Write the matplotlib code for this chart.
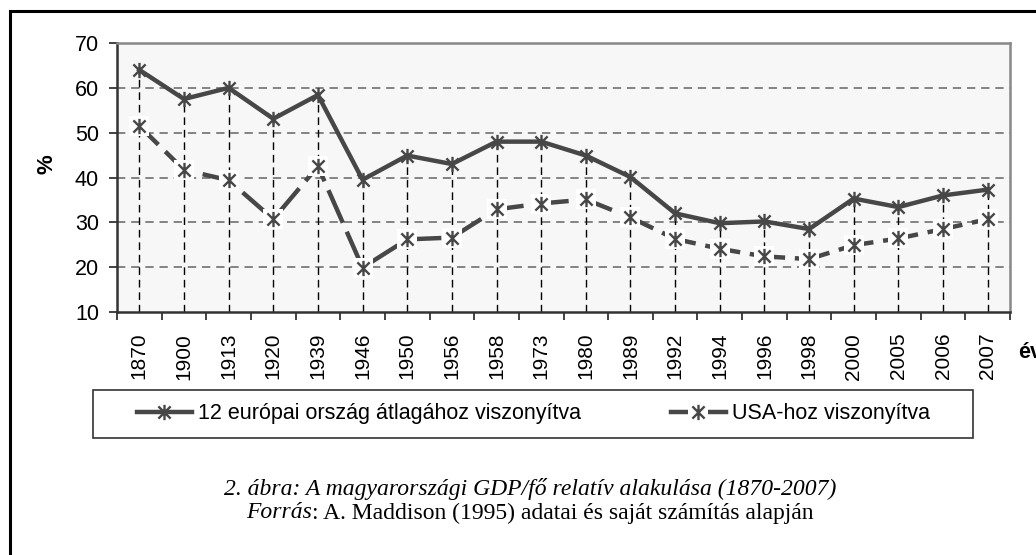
import numpy as np
import matplotlib.pyplot as plt
from matplotlib.path import Path
from matplotlib.patches import Rectangle
from matplotlib.lines import Line2D
from matplotlib.legend_handler import HandlerTuple

plt.rcParams['font.family'] = ['Liberation Sans', 'DejaVu Sans']

# --- Data ---
years = ["1870", "1900", "1913", "1920", "1939", "1946", "1950", "1956", "1958", "1973",
         "1980", "1989", "1992", "1994", "1996", "1998", "2000", "2005", "2006", "2007"]
europe12 = [64.0, 57.5, 60.0, 53.1, 58.4, 39.5, 44.9, 43.0, 48.0, 48.0,
            44.9, 40.1, 32.0, 29.8, 30.2, 28.5, 35.3, 33.4, 36.0, 37.3]
usa = [51.5, 41.7, 39.4, 30.7, 42.5, 19.9, 26.2, 26.6, 32.9, 34.2,
       35.1, 31.1, 26.3, 24.1, 22.4, 21.8, 24.9, 26.4, 28.5, 30.7]

label_eu = "12 európai ország átlagához viszonyítva"
label_us = "USA-hoz viszonyítva"
caption1 = "2. ábra: A magyarországi GDP/fő relatív alakulása (1870-2007)"
caption2_it = "Forrás"
caption2_rest = ": A. Maddison (1995) adatai és saját számítás alapján"

W, H = 1036, 555
LINE_C = "#474747"

# star marker: x plus vertical bar (like the Excel "*" marker)
star = Path([(0, -1), (0, 1), (-0.8, -0.8), (0.8, 0.8), (-0.8, 0.8), (0.8, -0.8)],
            [Path.MOVETO, Path.LINETO, Path.MOVETO, Path.LINETO, Path.MOVETO, Path.LINETO])

fig = plt.figure(figsize=(W / 100, H / 100), dpi=100)
ax = fig.add_axes([117 / W, 1 - 312 / H, (1010 - 117) / W, (312 - 43) / H])
ax.set_facecolor("#f7f7f7")

x = np.arange(len(years))

# drop lines from the upper series to the axis
ax.vlines(x, 10, europe12, colors="black", linestyles=(0, (5.5, 3.5)), linewidth=1.0, zorder=2)

# horizontal grid
for v in [20, 30, 40, 50, 60]:
    ax.axhline(v, color="#707070", linestyle=(0, (5, 3.5)), linewidth=1.2, zorder=1)

ax.plot(x, europe12, color=LINE_C, linewidth=3.2, zorder=4)
ax.plot(x, europe12, linestyle="none", marker=star, markersize=11,
        markeredgewidth=1.7, color=LINE_C, zorder=6)

ax.plot(x, usa, color=LINE_C, linewidth=3.2, linestyle=(2, (8, 2.2)), zorder=3)
ax.plot(x, usa, linestyle="none", marker="s", markersize=14, color="white",
        markeredgewidth=0, zorder=5)
ax.plot(x, usa, linestyle="none", marker=star, markersize=11,
        markeredgewidth=1.7, color=LINE_C, zorder=6)

ax.set_xlim(-0.5, len(years) - 0.5)
ax.set_ylim(10, 70)
ax.set_yticks([10, 20, 30, 40, 50, 60, 70])
ax.tick_params(axis="y", labelsize=15.5, length=6, width=1.2, pad=7, color="#222222")

ax.set_xticks(x)
ax.set_xticklabels(years, rotation=90, fontsize=15)
ax.set_xticks(np.arange(len(years) + 1) - 0.5, minor=True)
ax.tick_params(axis="x", which="major", length=0, pad=15)
ax.tick_params(axis="x", which="minor", length=6, width=1.2, color="#222222")

for side in ["left", "bottom"]:
    ax.spines[side].set_color("#333333")
    ax.spines[side].set_linewidth(1.8)
for side in ["top", "right"]:
    ax.spines[side].set_color("#888888")
    ax.spines[side].set_linewidth(1.8)

fig.text(47 / W, 1 - 164 / H, "%", rotation=90, fontsize=16, fontweight="bold",
         ha="center", va="center")
fig.text(1018 / W, 1 - 352 / H, "év", fontsize=15.5, fontweight="bold",
         ha="left", va="center")

# legend box
fig.patches.append(Rectangle((93 / W, 1 - 438 / H), (973 - 93) / W, 48 / H,
                             transform=fig.transFigure, fill=False,
                             edgecolor="#333333", linewidth=1.2))

h1 = Line2D([], [], color=LINE_C, linewidth=3.2, marker=star, markersize=11,
            markeredgewidth=1.7)
h2a = Line2D([], [], color=LINE_C, linewidth=3.2)
h2b = Line2D([], [], linestyle="none", marker="s", markersize=14, color="white",
             markeredgewidth=0)
h2c = Line2D([], [], linestyle="none", marker=star, markersize=11,
             markeredgewidth=1.7, color=LINE_C)
leg_kw = dict(frameon=False, loc="center left", fontsize=15.5, borderpad=0,
              borderaxespad=0, handlelength=2.55, handletextpad=0.28,
              handler_map={tuple: HandlerTuple(ndivide=1)})
fig.legend([h1], [label_eu], bbox_to_anchor=(137 / W, 1 - 414 / H), **leg_kw)
fig.legend([(h2a, h2b, h2c)], [label_us], bbox_to_anchor=(671 / W, 1 - 414 / H), **leg_kw)

# caption
fig.text(530 / W, 1 - 489 / H, caption1, family="Liberation Serif", style="italic",
         fontsize=17, ha="center", va="center")
t = fig.text(0, 1 - 513 / H, caption2_it, family="Liberation Serif",
             style="italic", fontsize=17, ha="left", va="center")
t2 = fig.text(0, 1 - 513 / H, caption2_rest, family="Liberation Serif",
              fontsize=17, ha="left", va="center")
fig.canvas.draw()
w_it = t.get_window_extent().width
w_rest = t2.get_window_extent().width
x0 = 530 - (w_it + w_rest) / 2
t.set_x(x0 / W)
t2.set_x((x0 + w_it) / W)

# outer frame (cut at right and bottom)
fig.patches.append(Rectangle((9.5 / W, -0.1), 1.2, 1.1 - 10.5 / H,
                             transform=fig.transFigure, fill=False,
                             edgecolor="black", linewidth=2.2))

fig.savefig("out.png", dpi=100, facecolor="white")
